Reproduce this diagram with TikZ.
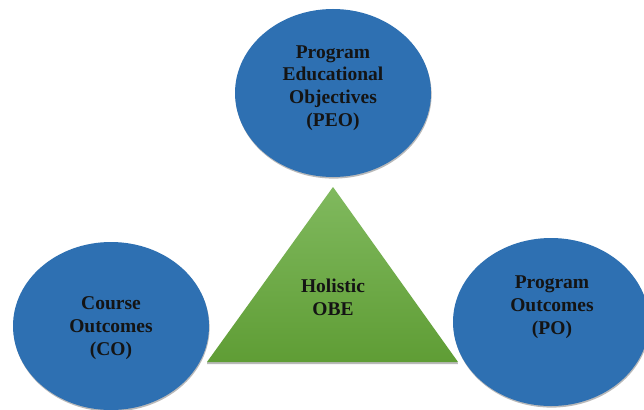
\documentclass[tikz,border=0pt]{standalone}
\usepackage{fontspec}
\setmainfont{Liberation Serif}
\usetikzlibrary{shadows,shapes.geometric}
\definecolor{obeblue}{HTML}{2E70B2}
\definecolor{obegreenT}{HTML}{80B95E}
\definecolor{obegreenB}{HTML}{5F9D35}
\definecolor{obetext}{HTML}{141414}
\tikzset{
  bubble/.style={ellipse, fill=obeblue, minimum width=196pt, minimum height=168pt, inner sep=0pt,
    drop shadow={opacity=0.55, shadow xshift=0.6pt, shadow yshift=-1.6pt}},
  label/.style={align=center, font=\bfseries\fontsize{19.5}{22.8}\selectfont, text=obetext, inner sep=0pt}
}
\begin{document}
\begin{tikzpicture}[x=1pt,y=-1pt]
\useasboundingbox (0,0) rectangle (644,409);
\fill[white] (0,0) rectangle (644,409);
\clip (0,0) rectangle (644,409);
% ellipses
\node[bubble] (peo) at (333,93) {};
\node[bubble] (co) at (111,326) {};
\node[bubble] (po) at (551,322) {};
% triangle
\coordinate (apex) at (333,187);
\coordinate (bl) at (207,362);
\coordinate (br) at (458,362);
\fill[black!45, opacity=0.6] ([yshift=-2.2pt]bl) -- ([yshift=-2.2pt]br) -- ([xshift=-0.5pt]br) -- (bl) -- cycle;
\shade[top color=obegreenT, bottom color=obegreenB] (apex) -- (br) -- (bl) -- cycle;
% texts
\node[label] (peot) at (333,88) {Program\\Educational\\Objectives\\(PEO)};
\node[label] (cot) at (111,328) {Course\\Outcomes\\(CO)};
\node[label] (pot) at (552,307) {Program\\Outcomes\\(PO)};
\node[label] (obe) at (333,297) {Holistic\\OBE};
\end{tikzpicture}
\end{document}
